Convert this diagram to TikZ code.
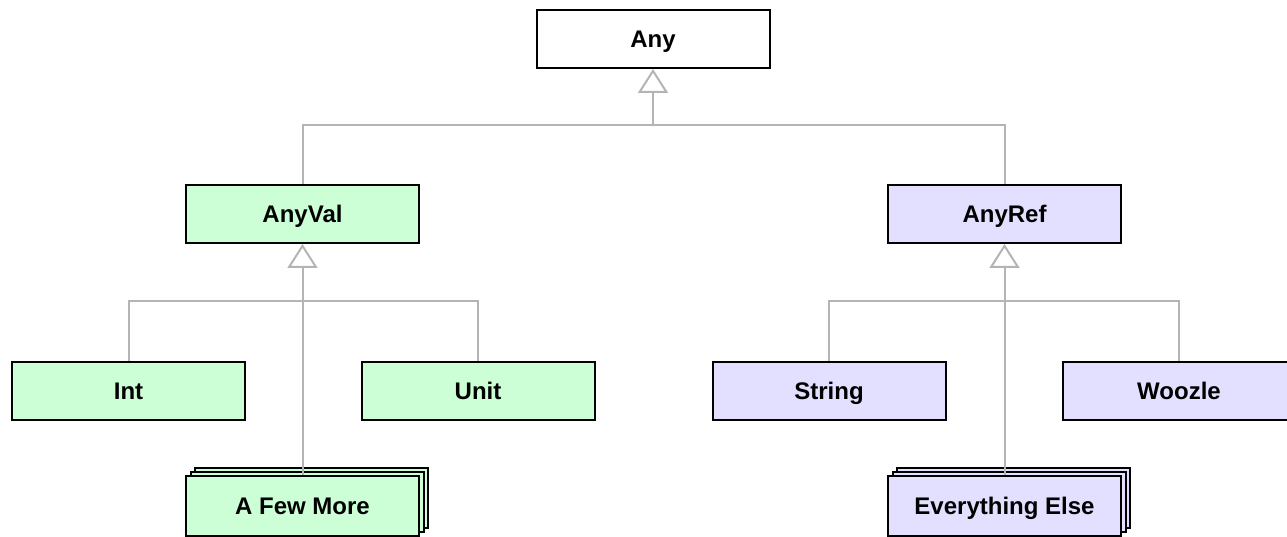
\documentclass[tikz,border=0pt]{standalone}
\usepackage{fontspec}
\setmainfont{Liberation Sans}
\usetikzlibrary{arrows.meta,shadows}
\definecolor{valgreen}{RGB}{204,255,214}
\definecolor{refpurple}{RGB}{227,224,255}
\definecolor{conngray}{RGB}{180,180,180}
\begin{document}
\begin{tikzpicture}[x=1pt,y=-1pt,
  box/.style={draw=black,line width=2pt,minimum width=233pt,minimum height=58pt,inner sep=0pt,
    text height=17pt,text depth=0pt,
    font=\fontsize{24}{28}\selectfont\bfseries},
  valbox/.style={box,fill=valgreen},
  refbox/.style={box,fill=refpurple},
  stackbox/.style={double copy shadow={shadow xshift=4.5pt,shadow yshift=4pt,draw=black,line width=2pt}},
  conn/.style={draw=conngray,line width=2pt},
  inh/.style={conn,-{Triangle[open,length=24pt,width=30pt,line width=2pt]}}
]
\useasboundingbox (0,0) rectangle (1287,537);
\node[box,fill=white] (any) at (653,39) {Any};
\node[valbox] (anyval) at (302.5,214) {AnyVal};
\node[refbox] (anyref) at (1004.5,214) {AnyRef};
\node[valbox] (int) at (128.5,390.5) {Int};
\node[valbox] (unit) at (478,390.5) {Unit};
\node[refbox] (string) at (829,390.5) {String};
\node[refbox] (woozle) at (1179,390.5) {Woozle};
\node[valbox,stackbox,minimum height=60pt] (more) at (302.5,506) {A Few More};
\node[refbox,stackbox,minimum height=60pt] (else) at (1004.5,506) {Everything Else};
\coordinate (b0) at (653,125);
\coordinate (b1) at (302.5,301);
\coordinate (b2) at (1004.5,301);
\draw[conn] (anyval.north) |- (b0) -| (anyref.north);
\draw[inh] (b0) -- (any.south);
\draw[conn] (int.north) |- (b1) -| (unit.north);
\draw[inh] (more.north) -- (anyval.south);
\draw[conn] (string.north) |- (b2) -| (woozle.north);
\draw[inh] (else.north) -- (anyref.south);
\end{tikzpicture}
\end{document}
